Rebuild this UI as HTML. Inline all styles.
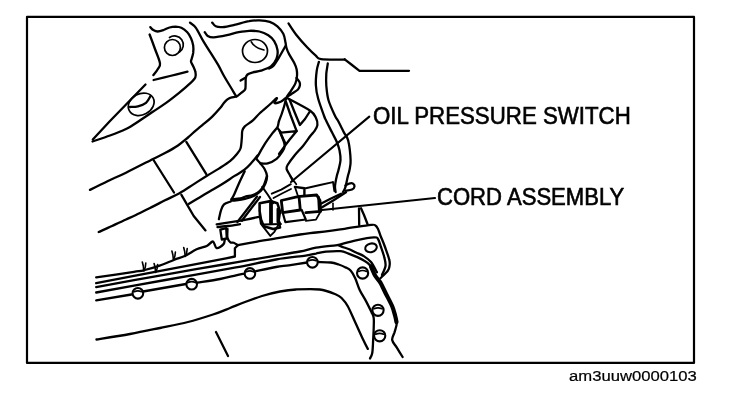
<!DOCTYPE html>
<html><head><meta charset="utf-8"><style>
html,body{margin:0;padding:0;background:#fff;}
body{width:736px;height:406px;position:relative;overflow:hidden;}
svg{position:absolute;left:0;top:0;}
.t{position:absolute;font-family:"Liberation Sans",sans-serif;color:#000;white-space:nowrap;transform-origin:0 0;line-height:1;-webkit-text-stroke:0.6px #000;filter:grayscale(1);}
</style></head><body>
<svg width="736" height="406" viewBox="0 0 736 406">
<g fill="none" stroke="#000" stroke-linecap="round" stroke-linejoin="round">
<path d="M150.3 27.1 C150.8 27.6 152.1 29.3 153.3 30.0 C154.5 30.7 156.0 31.5 157.7 31.5 C159.4 31.5 161.6 30.7 163.6 30.0 C165.6 29.3 167.5 28.1 169.5 27.5 C171.5 26.9 173.5 26.6 175.5 26.6 C177.5 26.7 179.4 26.9 181.4 27.8 C183.4 28.7 185.7 30.5 187.3 32.2 C188.9 33.9 190.0 36.0 191.0 38.2 C192.0 40.4 192.8 43.0 193.2 45.5 C193.6 48.0 193.4 50.7 193.2 52.9 C192.9 55.1 192.1 57.3 191.7 58.8 C191.3 60.3 190.8 60.6 191.0 61.8 C191.2 63.0 192.5 64.5 193.2 66.2 C193.9 67.9 195.1 70.2 195.4 72.1 C195.8 74.0 196.2 75.6 195.3 77.5 C194.4 79.4 192.5 81.2 189.8 83.7 C187.2 86.2 183.4 89.4 179.4 92.6 C175.4 95.8 170.5 99.7 166.1 102.9 C161.7 106.1 157.2 108.8 152.8 111.8 C148.4 114.8 142.9 118.4 139.5 120.7 C136.1 123.0 134.4 124.1 132.2 125.5 C129.9 126.9 129.7 127.3 126.0 129.0 C122.3 130.7 115.6 133.4 110.0 135.5 C104.4 137.6 95.4 140.5 92.5 141.5" stroke-width="2.3"/>
<path d="M92.8 139.5 L110.0 121.0 L145.5 84.5" stroke-width="2.3"/>
<path d="M149.6 34.5 C150.5 36.8 153.1 43.7 154.8 48.5 C156.5 53.3 159.5 59.8 160.0 63.3 C160.5 66.8 158.8 67.2 157.7 69.2 C156.6 71.2 154.0 74.1 153.3 75.1" stroke-width="2.3"/>
<path d="M153.6 80.0 C156.3 79.3 164.3 77.4 170.0 76.0 C175.7 74.6 184.6 72.3 187.5 71.6" stroke-width="2.3"/>
<path d="M130.0 107.0 C131.3 106.9 135.3 107.0 138.0 106.3 C140.7 105.6 143.9 104.5 146.0 102.8 C148.1 101.1 149.8 97.1 150.5 96.0" stroke-width="2.3"/>
<path d="M212.2 22.6 C212.8 23.2 214.1 25.6 215.8 26.3 C217.5 27.1 219.4 27.3 222.5 27.1 C225.6 26.9 229.9 25.9 234.3 24.9 C238.7 23.9 244.9 21.9 249.1 21.2 C253.3 20.4 255.9 20.3 259.4 20.4 C262.8 20.5 266.8 20.9 269.8 21.9 C272.8 22.9 275.1 24.3 277.4 26.3 C279.6 28.3 281.9 31.0 283.3 33.7 C284.7 36.4 285.0 40.2 285.5 42.6 C286.0 45.0 285.9 46.0 286.5 48.0 C287.1 50.0 287.9 51.9 289.2 54.4 C290.5 56.9 293.2 60.8 294.4 63.3 C295.6 65.8 296.2 67.1 296.6 69.2 C297.0 71.3 297.2 73.6 297.0 76.0 C296.8 78.4 296.4 80.9 295.4 83.4 C294.4 85.9 292.5 88.5 291.0 90.8 C289.5 93.1 287.6 95.1 286.5 97.5 C285.4 99.9 285.2 102.4 284.5 105.0 C283.8 107.6 282.9 110.3 282.0 113.0 C281.1 115.7 279.8 118.7 279.0 121.0 C278.2 123.3 278.6 124.9 277.5 127.0 C276.4 129.1 274.2 130.8 272.1 133.7 C270.0 136.5 266.9 140.6 264.7 144.1 C262.5 147.6 260.1 151.9 258.8 154.4 C257.5 156.9 256.4 157.3 256.6 158.8 C256.9 160.3 259.0 161.6 260.3 163.3 C261.6 165.0 263.6 167.1 264.7 169.2 C265.8 171.3 266.9 173.6 267.0 176.0 C267.1 178.4 266.5 180.9 265.5 183.4 C264.5 185.9 263.0 188.7 261.0 190.8 C259.0 192.9 256.4 194.7 253.7 196.0 C251.0 197.3 247.8 198.2 244.9 198.9 C242.0 199.6 238.2 200.1 236.0 200.4 C233.8 200.7 232.2 200.5 231.5 200.5" stroke-width="2.3"/>
<path d="M285.5 46.0 C284.4 47.9 281.1 54.0 279.0 57.4 C276.9 60.8 274.7 64.4 273.0 66.2 C271.3 68.0 269.7 68.1 269.0 68.5" stroke-width="2.3"/>
<path d="M204.8 32.2 C205.3 32.8 206.2 35.0 207.7 35.9 C209.2 36.8 210.4 37.5 213.6 37.4 C216.8 37.3 222.7 36.1 226.9 35.2 C231.1 34.3 235.0 32.9 238.7 32.2 C242.4 31.5 245.7 30.9 249.1 30.8 C252.5 30.7 256.2 30.8 259.4 31.5 C262.6 32.2 265.8 33.6 268.3 35.2 C270.8 36.8 272.7 38.6 274.2 41.1 C275.7 43.6 277.1 47.0 277.5 50.0 C277.9 53.0 277.6 56.1 276.5 58.8 C275.4 61.5 273.8 64.2 271.2 66.2 C268.6 68.2 263.9 69.7 260.9 70.7 C257.9 71.7 255.2 71.7 253.0 72.3 C250.8 72.9 248.7 73.5 247.5 74.5 C246.3 75.5 246.1 76.3 245.8 78.0 C245.5 79.7 245.7 82.7 245.6 84.6 C245.5 86.5 245.8 88.1 245.0 89.6 C244.2 91.0 241.9 92.2 240.6 93.3 C239.2 94.4 238.5 95.6 236.9 96.3 C235.3 97.0 232.4 97.0 230.8 97.6 C229.2 98.1 228.3 98.6 227.1 99.6 C225.9 100.6 224.6 102.2 223.5 103.5 C222.4 104.8 222.5 105.3 220.6 107.5 C218.7 109.7 214.9 114.0 212.0 116.8 C209.1 119.6 206.1 122.0 203.4 124.2 C200.7 126.5 198.6 128.1 196.0 130.3 C193.4 132.5 191.0 135.0 188.0 137.5 C185.0 140.0 181.8 142.9 178.0 145.5 C174.2 148.1 169.2 150.8 165.0 153.0 C160.8 155.2 159.5 155.7 153.0 159.0 C146.5 162.3 133.5 169.0 126.0 172.7 C118.5 176.4 114.0 178.1 108.0 181.0 C102.0 183.9 93.0 188.4 90.0 189.9" stroke-width="2.3"/>
<path d="M245.8 77.5 L240.6 80.6" stroke-width="2.3"/>
<path d="M190.0 22.6 C191.0 23.5 193.7 24.7 195.9 27.8 C198.1 30.9 200.8 36.9 203.3 41.1 C205.8 45.3 208.2 49.0 210.7 52.9 C213.1 56.8 215.8 60.9 218.0 64.7 C220.2 68.5 222.0 72.5 224.0 76.0 C226.0 79.5 227.9 82.6 230.0 86.0 C232.1 89.4 235.2 94.8 236.3 96.5" stroke-width="2.3"/>
<path d="M288.5 23.4 C289.9 25.4 293.5 31.3 296.6 35.2 C299.7 39.1 303.7 43.6 306.9 47.0 C310.1 50.4 313.4 53.6 315.8 55.6 C318.2 57.6 316.1 58.5 321.0 59.2 C325.9 59.9 341.0 59.5 345.0 59.6" stroke-width="2.3"/>
<path d="M344.7 59.3 L352.0 65.0 L359.5 70.8 L409.0 70.8" stroke-width="2.3"/>
<path d="M318.9 61.9 C318.5 63.4 317.2 66.9 316.7 70.8 C316.2 74.7 315.6 80.8 315.9 85.5 C316.1 90.2 316.8 93.7 318.2 98.8 C319.6 103.9 322.8 112.3 324.1 116.0 C325.4 119.7 324.9 118.0 326.2 120.8 C327.5 123.6 330.4 129.2 332.1 132.6 C333.8 136.0 335.4 138.6 336.6 141.5 C337.8 144.4 338.9 147.2 339.5 150.3 C340.1 153.4 340.7 157.0 340.5 160.3 C340.3 163.6 339.1 167.4 338.5 170.0 C337.9 172.6 337.4 173.3 336.8 176.0 C336.2 178.7 335.2 183.2 335.0 185.9 C334.8 188.6 335.5 191.0 335.6 192.0" stroke-width="2.3"/>
<path d="M327.8 63.4 C327.6 65.1 326.6 70.0 326.3 73.7 C326.1 77.4 325.9 81.1 326.3 85.5 C326.7 89.9 327.0 95.2 328.5 100.3 C330.0 105.4 333.5 112.6 335.1 116.0 C336.7 119.4 336.5 118.0 338.0 120.8 C339.5 123.6 342.3 129.3 344.0 132.6 C345.7 135.9 347.1 136.0 348.2 140.6 C349.3 145.2 350.4 155.4 350.6 160.3 C350.8 165.2 349.9 167.4 349.5 170.0 C349.1 172.6 348.6 173.2 347.9 176.0 C347.2 178.8 346.2 184.4 345.4 187.1 C344.6 189.8 343.4 191.2 343.0 192.0" stroke-width="2.3"/>
<path d="M345.4 185.5 C346.0 185.2 347.8 183.9 349.0 183.6 C350.2 183.2 351.9 182.9 352.8 183.4 C353.7 183.9 354.6 185.5 354.5 186.5 C354.4 187.5 353.5 188.8 352.0 189.5 C350.5 190.2 346.5 190.6 345.4 190.8" stroke-width="2.3"/>
<path d="M341.1 193.7 L330.0 199.0 L319.4 204.5" stroke-width="2.3"/>
<path d="M346.0 192.3 L334.0 200.0 L322.1 207.3" stroke-width="2.3"/>
<path d="M289.5 99.5 L294.5 112.0 L299.9 125.0 L305.0 119.0 L309.5 112.0" stroke-width="2.3"/>
<path d="M296.5 78.0 C297.0 78.7 298.9 80.8 299.5 82.0 C300.1 83.2 300.1 84.2 299.9 85.5 C299.6 86.8 299.3 88.2 298.0 89.5 C296.7 90.8 293.8 92.2 292.0 93.5 C290.2 94.8 287.8 96.4 287.0 97.0" stroke-width="2.3"/>
<path d="M288.0 98.5 C291.7 100.5 305.5 107.5 310.2 110.7 C314.9 114.0 314.8 115.6 316.0 118.0 C317.2 120.4 317.7 123.0 317.4 125.2 C317.1 127.4 315.6 129.3 314.4 131.1 C313.2 132.9 312.2 133.5 310.3 136.0 C308.4 138.5 305.7 142.6 303.0 145.9 C300.3 149.2 296.9 152.5 294.3 155.7 C291.7 158.9 288.9 162.8 287.6 165.0 C286.3 167.2 286.3 167.5 286.6 169.0 C286.9 170.5 288.3 172.2 289.4 174.2 C290.5 176.2 292.4 179.9 293.0 181.0" stroke-width="2.3"/>
<path d="M281.2 132.6 L296.7 131.1 L289.3 140.0 L284.9 145.9 L279.0 154.0" stroke-width="2.3"/>
<path d="M277.5 128.0 L281.2 132.6" stroke-width="2.3"/>
<path d="M260.3 163.3 C261.5 163.3 265.0 164.1 267.7 163.3 C270.4 162.6 274.1 160.8 276.6 158.8 C279.1 156.8 281.1 153.7 282.5 151.5 C283.9 149.3 284.7 147.7 284.7 145.5 C284.7 143.3 283.4 140.6 282.5 138.2 C281.6 135.8 280.0 132.2 279.5 131.0" stroke-width="2.3"/>
<path d="M98.7 232.0 C100.9 231.0 107.5 228.1 112.0 226.0 C116.5 223.9 122.0 221.3 126.0 219.5 C130.0 217.7 131.9 216.9 135.9 215.0 C139.9 213.1 145.2 210.4 150.0 208.0 C154.8 205.6 160.1 202.8 165.0 200.3 C169.9 197.8 174.8 195.8 179.5 193.2 C184.2 190.6 188.6 187.5 193.1 184.6 C197.6 181.7 202.3 178.7 206.6 176.0 C210.9 173.3 215.0 171.1 218.9 168.6 C222.8 166.1 227.1 163.5 230.0 161.2 C232.9 158.8 234.8 156.6 236.5 154.5 C238.2 152.4 239.6 151.2 240.5 148.5 C241.4 145.8 241.5 141.1 241.8 138.2 C242.1 135.2 241.8 132.8 242.3 130.8 C242.8 128.8 243.0 128.0 244.8 126.3 C246.6 124.6 250.4 122.6 252.9 120.4 C255.4 118.2 257.1 115.7 260.0 113.0 C262.9 110.3 267.9 106.2 270.3 104.0 C272.7 101.8 273.4 101.0 274.5 100.0 C275.6 99.0 277.0 97.7 277.0 98.2 C277.0 98.7 273.9 102.4 274.5 103.0 C275.1 103.6 278.9 102.6 280.7 101.8 C282.5 101.0 284.7 98.8 285.5 98.2" stroke-width="2.3"/>
<path d="M153.5 160.0 L174.0 192.5" stroke-width="2.3"/>
<path d="M186.3 141.9 L206.3 174.1" stroke-width="2.3"/>
<path d="M181.4 194.8 L193.7 216.0 L205.5 230.4" stroke-width="2.3"/>
<path d="M189.0 203.8 C190.8 202.7 196.5 199.3 200.0 197.2 C203.5 195.1 206.3 193.5 210.0 191.3 C213.7 189.1 218.2 186.6 222.3 184.0 C226.4 181.4 230.9 178.3 234.6 175.9 C238.3 173.5 241.6 172.0 244.5 169.7 C247.4 167.4 249.7 164.7 251.9 162.3 C254.1 159.9 256.6 156.6 257.5 155.5" stroke-width="2.3"/>
<path d="M244.7 171.2 C243.7 173.3 240.5 179.9 238.8 183.7 C237.1 187.5 235.6 191.4 234.4 194.0 C233.2 196.6 232.0 198.3 231.5 199.2" stroke-width="2.3"/>
<path d="M230.7 201.5 C229.6 202.0 225.6 202.9 224.0 204.4 C222.4 205.9 221.8 207.8 221.0 210.3 C220.2 212.8 219.2 217.7 218.9 219.2" stroke-width="2.3"/>
<path d="M216.7 224.3 C220.1 223.8 232.5 222.0 237.4 221.2 C242.3 220.4 242.4 220.3 246.0 219.6 C249.6 218.9 256.8 217.3 259.0 216.8" stroke-width="2.3"/>
<path d="M257.0 196.5 L237.4 222.0" stroke-width="2.3"/>
<path d="M260.0 197.0 L241.8 220.7" stroke-width="2.3"/>
<path d="M96.2 277.3 C102.5 276.4 125.9 273.1 134.0 271.9 C142.1 270.7 140.5 271.1 144.8 270.0 C149.1 268.9 154.7 267.3 159.6 265.6 C164.5 263.9 170.2 261.3 174.4 259.7 C178.6 258.1 181.0 257.7 184.7 256.0 C188.4 254.3 192.9 251.0 196.6 249.3 C200.3 247.6 204.1 247.3 206.8 246.0 C209.5 244.7 211.3 241.2 212.9 241.5 C214.5 241.8 214.9 247.6 216.6 248.1 C218.3 248.6 222.0 245.8 223.3 244.4 C224.7 243.1 224.5 240.7 224.7 240.0" stroke-width="2.3"/>
<path d="M142.3 262.0 L143.3 266.0 L143.8 271.0" stroke-width="1.6"/>
<path d="M145.8 263.0 L145.3 267.0 L144.3 270.0" stroke-width="1.6"/>
<path d="M154.1 263.5 L155.1 267.5 L155.6 272.5" stroke-width="1.6"/>
<path d="M157.6 264.5 L157.1 268.5 L156.1 271.5" stroke-width="1.6"/>
<path d="M171.9 251.0 L172.9 255.0 L173.4 260.0" stroke-width="1.6"/>
<path d="M175.4 252.0 L174.9 256.0 L173.9 259.0" stroke-width="1.6"/>
<path d="M183.7 247.5 L184.7 251.5 L185.2 256.5" stroke-width="1.6"/>
<path d="M187.2 248.5 L186.7 252.5 L185.7 255.5" stroke-width="1.6"/>
<path d="M220.3 229.6 L226.2 228.2 L226.8 238.5 L221.8 239.5 L220.3 229.6" stroke-width="2.3"/>
<path d="M227.5 229.0 C227.5 230.5 227.0 235.6 227.5 237.8 C228.0 240.0 229.4 241.5 230.4 242.3 C231.4 243.1 232.5 242.2 233.7 242.7 C234.9 243.2 237.1 244.8 237.8 245.2" stroke-width="2.3"/>
<path d="M96.2 283.2 L134.0 275.8 L196.0 264.2 L226.0 258.3 L234.9 256.5 L234.9 248.2 L237.8 245.2" stroke-width="2.3"/>
<path d="M237.8 245.2 C240.8 244.6 249.6 243.0 256.0 241.8 C262.4 240.7 268.7 239.5 276.0 238.3 C283.3 237.1 293.3 235.5 300.0 234.5 C306.7 233.5 308.6 233.4 316.0 232.5 C323.4 231.6 335.4 230.1 344.6 228.8 C353.8 227.5 365.9 225.4 371.0 224.9 C376.1 224.4 374.2 224.9 375.4 225.6 C376.6 226.3 377.1 227.3 378.0 229.0 C378.9 230.7 379.4 233.0 380.6 236.0 C381.8 239.0 383.6 243.0 385.0 247.0 C386.4 251.0 388.6 256.7 389.3 259.9 C390.1 263.1 389.8 264.2 389.5 266.0 C389.2 267.8 389.3 268.8 387.8 270.8 C386.3 272.8 381.6 277.0 380.4 278.2" stroke-width="2.3"/>
<path d="M96.2 287.1 C102.5 286.0 117.4 283.2 134.0 280.2 C150.6 277.2 179.0 272.2 196.0 269.2 C213.0 266.2 222.7 264.7 236.0 262.4 C249.3 260.1 265.3 257.4 276.0 255.6 C286.7 253.8 293.3 252.8 300.0 251.5 C306.7 250.2 310.1 248.7 316.0 247.7 C321.9 246.7 331.9 245.8 335.7 245.3 C339.5 244.8 335.3 245.6 338.7 244.8 C342.1 244.0 350.1 241.5 356.0 240.3 C361.9 239.1 370.3 237.6 374.0 237.4 C377.7 237.2 376.8 237.4 378.0 239.0 C379.2 240.6 379.9 243.9 381.0 247.0 C382.1 250.1 383.6 254.2 384.3 257.4 C385.1 260.6 385.9 263.1 385.5 266.0 C385.1 268.9 382.6 273.5 382.0 275.0" stroke-width="2.3"/>
<path d="M338.0 245.0 C339.0 245.4 342.0 246.8 344.0 247.5 C346.0 248.2 348.0 248.7 350.0 249.5 C352.0 250.3 353.7 251.4 356.0 252.5 C358.3 253.6 361.1 254.4 363.6 256.0 C366.1 257.6 368.8 259.3 371.0 262.0 C373.2 264.7 375.9 270.5 376.9 272.2" stroke-width="2.3"/>
<path d="M96.2 292.5 C102.5 291.4 117.4 288.6 134.0 285.6 C150.6 282.6 179.0 277.6 196.0 274.6 C213.0 271.6 222.7 269.9 236.0 267.4 C249.3 264.9 264.4 261.5 276.0 259.5 C287.6 257.5 298.9 256.6 305.6 255.6 C312.3 254.6 312.6 254.2 316.0 253.6 C319.4 252.9 321.8 252.1 325.9 251.7 C330.0 251.3 336.8 250.9 340.6 251.2 C344.4 251.5 345.9 252.7 348.5 253.6 C351.1 254.5 353.6 255.5 356.0 256.6 C358.4 257.7 360.8 258.6 363.0 260.0 C365.2 261.4 367.4 262.1 369.5 264.8 C371.6 267.5 373.6 273.0 375.4 276.0 C377.2 279.0 378.6 279.5 380.4 282.6 C382.2 285.7 384.3 290.6 386.3 294.5 C388.3 298.4 390.7 302.7 392.2 306.3 C393.7 309.9 394.4 313.1 395.2 316.0 C395.9 318.9 396.8 321.0 396.7 323.8 C396.6 326.6 395.1 329.9 394.4 332.6 C393.6 335.3 391.8 337.5 392.2 340.0 C392.6 342.5 395.0 344.6 396.7 347.4 C398.4 350.2 401.6 355.4 402.6 357.0" stroke-width="2.3"/>
<path d="M96.2 300.4 L131.4 294.5" stroke-width="2.3"/>
<path d="M143.0 291.5 L186.0 284.0" stroke-width="2.3"/>
<path d="M197.5 282.6 C201.2 282.0 213.6 280.2 220.0 279.0 C226.4 277.8 231.9 276.3 236.0 275.4 C240.1 274.5 243.1 273.9 244.5 273.6" stroke-width="2.3"/>
<path d="M256.0 271.2 C259.3 270.5 270.5 268.0 276.0 267.0 C281.5 266.0 283.6 266.1 288.8 265.4 C294.0 264.6 304.0 263.0 307.0 262.5" stroke-width="2.3"/>
<path d="M318.0 262.0 C320.1 262.1 327.4 262.1 330.8 262.5 C334.2 262.9 336.2 263.7 338.7 264.5 C341.2 265.3 343.6 266.3 345.6 267.4 C347.6 268.4 349.2 269.0 350.8 270.8 C352.4 272.6 353.7 275.0 355.2 278.2 C356.7 281.4 358.0 286.3 359.7 290.0 C361.4 293.7 363.6 296.7 365.6 300.4 C367.6 304.1 370.1 309.3 371.5 312.2 C372.9 315.1 373.3 315.1 373.7 317.8 C374.1 320.5 373.8 324.0 373.7 328.2 C373.6 332.4 373.2 338.8 373.0 343.0 C372.8 347.2 372.7 350.7 372.2 353.3 C371.7 355.9 370.4 357.6 370.0 358.5" stroke-width="2.3"/>
<path d="M96.5 339.5 C102.1 338.6 119.4 335.9 130.0 334.0 C140.6 332.1 150.3 330.0 160.0 328.0 C169.7 326.0 179.2 324.2 188.0 322.0 C196.8 319.8 206.0 316.8 213.0 314.5 C220.0 312.2 224.7 310.1 230.0 308.0 C235.3 305.9 239.7 304.0 245.0 302.0 C250.3 300.0 256.2 297.8 262.0 296.0 C267.8 294.2 274.3 292.6 280.0 291.5 C285.7 290.4 289.4 289.8 296.0 289.5 C302.6 289.2 312.9 288.7 319.6 289.5 C326.3 290.3 332.3 293.0 336.0 294.5 C339.7 296.0 340.0 296.5 342.0 298.5 C344.0 300.5 345.6 302.3 347.8 306.3 C350.0 310.3 352.7 316.9 355.2 322.3 C357.7 327.7 360.5 334.1 362.6 338.5 C364.7 342.9 366.9 347.2 367.8 348.9" stroke-width="2.3"/>
<path d="M216.0 332.0 L228.0 356.0" stroke-width="2.3"/>
<path d="M359.0 208.5 L359.2 225.0" stroke-width="2.3"/>
<path d="M361.0 208.2 L364.0 215.0 L367.5 224.0" stroke-width="2.3"/>
<path d="M267.0 176.0 C266.4 177.6 264.9 183.0 263.7 185.5 C262.5 188.0 261.4 189.4 259.6 191.0 C257.8 192.6 255.1 194.1 252.8 195.0 C250.5 195.9 248.1 195.8 246.0 196.4 C243.9 197.0 242.7 198.0 240.3 198.5 C237.9 199.0 233.0 199.3 231.5 199.5" stroke-width="2.3"/>
<path d="M259.6 203.2 L270.5 201.1 L277.3 203.2 L280.0 211.3 L278.6 220.8 L280.0 227.6 L273.2 229.0 L263.7 226.3 L261.0 219.5 L259.6 211.3 Z" stroke-width="2.6"/>
<path d="M271.0 203.0 L271.0 223.0" stroke-width="3.8"/>
<path d="M277.8 209.0 L277.8 222.0" stroke-width="2.6"/>
<path d="M273.5 198.0 L282.0 193.5 L291.0 189.0" stroke-width="1.8"/>
<path d="M263.5 224.5 L281.0 224.0" stroke-width="1.8"/>
<path d="M262.3 186.9 L268.0 195.0 L273.2 203.2" stroke-width="2"/>
<path d="M271.8 193.7 L281.3 189.6 L290.8 184.2" stroke-width="2"/>
<path d="M259.5 214.2 L260.8 223.7 L270.3 235.9 L274.4 231.8 L279.9 222.3" stroke-width="1.9"/>
<path d="M281.3 200.5 L299.0 196.4 L300.3 210.0 L282.7 212.7 Z" stroke-width="2.8"/>
<path d="M282.7 212.7 L285.4 222.2 L305.8 219.5 L301.7 210.0" stroke-width="2.2"/>
<path d="M300.3 196.4 L316.7 195.0 L320.0 200.5 L320.7 211.3 L305.8 212.7" stroke-width="2.8"/>
<path d="M318.5 197.0 L319.2 210.0" stroke-width="2.6"/>
<path d="M320.7 211.3 L316.0 219.6 L305.8 220.9" stroke-width="1.8"/>
<path d="M294.9 186.9 L304.4 188.2 L304.4 195.0" stroke-width="2.4"/>
<path d="M294.9 186.9 L297.6 195.0" stroke-width="1.8"/>
<path d="M305.8 188.2 L320.0 185.0 L333.0 182.1" stroke-width="1.9"/>
<path d="M333.0 182.1 L334.3 191.0" stroke-width="1.8"/>
<path d="M333.0 203.2 L333.0 210.0" stroke-width="1.6"/>
<path d="M290.4 176.0 L296.3 184.2" stroke-width="1.8"/>
<path d="M286.0 102.0 L290.5 115.0 L296.6 131.0" stroke-width="2.3"/>
<path d="M280.5 133.0 L283.0 138.5 L285.5 143.5" stroke-width="2.3"/>
<path d="M217.5 227.0 C219.2 226.8 224.2 226.5 228.0 226.0 C231.8 225.5 238.0 224.5 240.0 224.2" stroke-width="2.3"/>
<path d="M371.0 266.5 C371.7 268.1 373.8 273.3 375.4 276.0 C377.0 278.7 378.6 279.5 380.4 282.6 C382.2 285.7 384.3 290.6 386.3 294.5 C388.3 298.4 390.7 302.7 392.2 306.3 C393.7 309.9 394.5 313.4 395.2 316.0 C395.9 318.6 396.3 321.0 396.5 322.0" stroke-width="4.2"/>
<rect x="27" y="16.9" width="667" height="346" stroke-width="2.2"/>
<circle cx="172.4" cy="47.5" r="8" stroke-width="1.7"/>
<path d="M169.5 37.5 A7.6 7.6 0 1 1 179.5 52" stroke-width="1.7"/>
<ellipse cx="141.2" cy="104.3" rx="13.5" ry="10.5" transform="rotate(-28 141.2 104.3)" stroke-width="1.7"/>
<ellipse cx="255" cy="51" rx="12.5" ry="11.5" stroke-width="1.7"/>
<path d="M251.3 41.8 Q254 47.5 263.9 50" stroke-width="1.7"/>
<!-- bolts -->
<g stroke-width="2.1">
<circle cx="137.9" cy="293.3" r="5.3"/>
<circle cx="191.7" cy="284.2" r="5.3"/>
<circle cx="249.9" cy="273.4" r="5.3"/>
<circle cx="312.4" cy="262.3" r="5.3"/>
<circle cx="362.6" cy="273.0" r="5.6"/>
<circle cx="378.0" cy="310.3" r="5.6"/>
<circle cx="379.7" cy="335.8" r="5.6"/>
<ellipse cx="371" cy="247.8" rx="5.9" ry="4.3" transform="rotate(-15 371 247.8)"/>
<path d="M134.2 291.7 Q137.9 289.9 141.6 291.7" stroke-width="1.7"/>
<path d="M188.0 282.6 Q191.7 280.8 195.4 282.6" stroke-width="1.7"/>
<path d="M246.2 271.8 Q249.9 270.0 253.6 271.8" stroke-width="1.7"/>
<path d="M308.7 260.7 Q312.4 258.9 316.1 260.7" stroke-width="1.7"/>
<path d="M358.7 271.4 Q362.6 269.6 366.5 271.4" stroke-width="1.7"/>
<path d="M374.1 308.7 Q378.0 306.9 381.9 308.7" stroke-width="1.7"/>
<path d="M375.8 334.2 Q379.7 332.4 383.6 334.2" stroke-width="1.7"/>
</g>
<!-- leader lines -->
<path d="M369.3 116.6 L291 182" stroke-width="2.1"/>
<path d="M435 198 L322 210" stroke-width="2.1"/>

</g></svg>
<div class="t" id="t1" style="left:373px;top:104.5px;font-size:23px;transform:scaleX(0.968)">OIL PRESSURE SWITCH</div>
<div class="t" id="t2" style="left:437px;top:186px;font-size:23px;transform:scaleX(0.96)">CORD ASSEMBLY</div>
<div class="t" id="t3" style="-webkit-text-stroke:0.2px #000;left:569px;top:369px;font-size:14px;transform:scaleX(1.19)">am3uuw0000103</div>
</body></html>
